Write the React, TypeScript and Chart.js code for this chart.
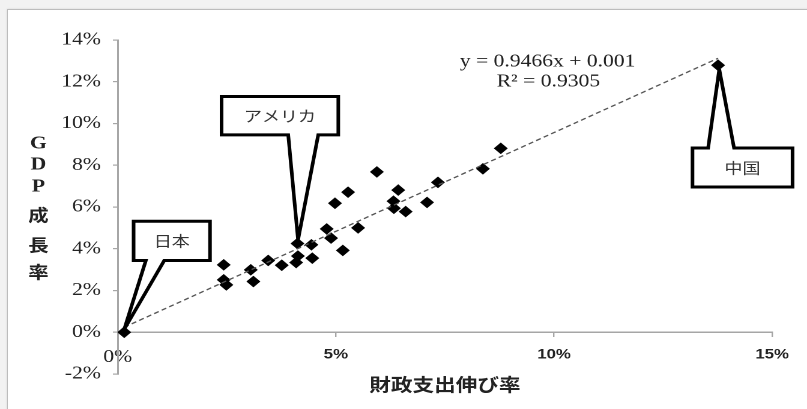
import React, { useEffect, useRef } from 'react';
import { Chart, registerables } from 'chart.js';

Chart.register(...registerables);

// ---- data (percent) ----
const SPENDING_GROWTH = [
  0.15, 2.43, 2.43, 2.49, 3.05, 3.11, 3.45, 3.76, 4.09, 4.12,
  4.13, 4.44, 4.46, 4.79, 4.89, 5.16, 4.98, 5.28, 5.51, 5.94,
  6.43, 6.32, 6.33, 6.6, 7.09, 7.34, 8.37, 8.78, 13.76,
];
const GDP_GROWTH = [
  0.0, 3.23, 2.51, 2.27, 2.99, 2.43, 3.44, 3.21, 3.34, 4.25,
  3.65, 4.19, 3.55, 4.95, 4.51, 3.92, 6.18, 6.71, 5.0, 7.68,
  6.81, 6.28, 5.94, 5.78, 6.22, 7.18, 7.83, 8.81, 12.79,
];
const TREND_SLOPE = 0.9466;
const TREND_INTERCEPT_PCT = 0.1;
const X_TICKS = [0, 5, 10, 15];
const Y_TICK_STEP = 2;
const Y_AXIS_TITLE = ['G', 'D', 'P', '成', '長', '率'];
const X_AXIS_TITLE = '財政支出伸び率';
const EQUATION_LINES = ['y = 0.9466x + 0.001', 'R² = 0.9305'];
const CALLOUT_LABELS = ['日本', 'アメリカ', '中国'];
const CALLOUT_POINTS = [0, 9, 28];

// ---- layout / style (logical px; canvas is stretched horizontally) ----
const LOGICAL_W = 672;
const H = 409;
const DISPLAY_W = 807;

const CALLOUT_GEOMETRY = [
  { tipDx: 0, tipDy: -3, left: 7.8, right: 71.4, top: -111, bottom: -71.7, baseL: 18, baseR: 33.3, side: 'bottom' },
  { tipDx: 0.5, tipDy: -3.7, left: -63.2, right: 34, top: -147, bottom: -108.7, baseL: -7.7, baseR: 17.3, side: 'bottom' },
  { tipDx: 1, tipDy: 4, left: -21.3, right: 62, top: 82.8, bottom: 121.8, baseL: -8.3, baseR: 13.3, side: 'top' },
];
const EQUATION_POS = [{ x: 456, y: 62 }, { x: 456.7, y: 82 }];
const Y_TITLE_X = 32;
const Y_TITLE_Y = [144, 165, 187, 215, 245, 272];

const SERIF = '"Liberation Serif", "DejaVu Serif", serif';
const SANS = '"Liberation Sans", Arial, sans-serif';
const CJK = '"Noto Sans CJK JP", "Noto Sans", sans-serif';

const overlayPlugin = {
  id: 'overlay',
  afterDatasetsDraw(chart: any) {
    const { ctx, scales } = chart;
    const xs = scales.x;
    const ys = scales.y;
    ctx.save();
    // callouts
    CALLOUT_POINTS.forEach((idx, k) => {
      const g = CALLOUT_GEOMETRY[k];
      const px = xs.getPixelForValue(SPENDING_GROWTH[idx]);
      const py = ys.getPixelForValue(GDP_GROWTH[idx]);
      const L = px + g.left;
      const R = px + g.right;
      const T = py + g.top;
      const B = py + g.bottom;
      const edge = g.side === 'bottom' ? B : T;
      const other = g.side === 'bottom' ? T : B;
      ctx.beginPath();
      ctx.moveTo(px + g.baseL, edge);
      ctx.lineTo(px + g.tipDx, py + g.tipDy);
      ctx.lineTo(px + g.baseR, edge);
      ctx.lineTo(R, edge);
      ctx.lineTo(R, other);
      ctx.lineTo(L, other);
      ctx.lineTo(L, edge);
      ctx.closePath();
      ctx.fillStyle = '#ffffff';
      ctx.fill();
      ctx.lineWidth = 3;
      ctx.strokeStyle = '#000000';
      ctx.lineJoin = 'miter';
      ctx.miterLimit = 3;
      ctx.stroke();
      ctx.fillStyle = '#333333';
      ctx.font = `15px ${CJK}`;
      ctx.textAlign = 'center';
      ctx.textBaseline = 'middle';
      ctx.fillText(CALLOUT_LABELS[k], (L + R) / 2, (T + B) / 2);
    });
    // equation
    ctx.fillStyle = '#222222';
    ctx.font = `18px ${SERIF}`;
    ctx.textAlign = 'center';
    ctx.textBaseline = 'middle';
    EQUATION_LINES.forEach((t, i) => ctx.fillText(t, EQUATION_POS[i].x, EQUATION_POS[i].y));
    // y axis title (stacked characters)
    Y_AXIS_TITLE.forEach((ch, i) => {
      const latin = /[A-Za-z]/.test(ch);
      ctx.font = latin ? `bold 18px ${SERIF}` : `bold 17px ${CJK}`;
      ctx.fillText(ch, Y_TITLE_X, Y_TITLE_Y[i]);
    });
    ctx.restore();
  },
};

export default function App() {
  const ref = useRef<HTMLCanvasElement | null>(null);

  useEffect(() => {
    if (!ref.current) return;
    const points = SPENDING_GROWTH.map((x, i) => ({ x, y: GDP_GROWTH[i] }));
    const xMin = Math.min(...SPENDING_GROWTH);
    const xMax = Math.max(...SPENDING_GROWTH);
    const trend = [xMin, xMax].map((x) => ({ x, y: TREND_SLOPE * x + TREND_INTERCEPT_PCT }));
    const axisGray = '#a6a6a6';

    const chart = new Chart(ref.current, {
      type: 'scatter',
      data: {
        datasets: [
          {
            data: trend,
            showLine: true,
            borderColor: '#555555',
            borderWidth: 1.3,
            borderDash: [4.3, 2.8],
            pointRadius: 0,
            fill: false,
          } as any,
          {
            data: points,
            pointStyle: 'rectRot',
            pointRadius: 5.4,
            backgroundColor: '#000000',
            borderColor: '#000000',
            borderWidth: 0.6,
          } as any,
        ],
      },
      options: {
        animation: false,
        responsive: false,
        devicePixelRatio: 2,
        events: [],
        layout: { padding: { top: 40, bottom: 35, right: 29, left: 0 } },
        plugins: { legend: { display: false }, tooltip: { enabled: false }, title: { display: false } },
        scales: {
          x: {
            type: 'linear',
            min: 0,
            max: 15,
            position: { y: 0 } as any,
            afterBuildTicks: (s: any) => {
              s.ticks = X_TICKS.map((v) => ({ value: v }));
            },
            ticks: {
              padding: 10,
              color: '#222222',
              callback: (v: any) => `${v}%`,
              font: ((c: any) =>
                c.tick && c.tick.value === 0
                  ? { family: SERIF, size: 18 }
                  : { family: SANS, size: 14, weight: 'bold' }) as any,
              maxRotation: 0,
            },
            grid: { drawOnChartArea: false, drawTicks: true, tickLength: 4, color: axisGray, lineWidth: 1.2 },
            border: { color: axisGray, width: 1.5 },
            title: {
              display: true,
              text: X_AXIS_TITLE,
              color: '#222222',
              font: { family: CJK, size: 18, weight: 'bold' },
              padding: { top: -4, bottom: 0 },
            },
          },
          y: {
            type: 'linear',
            min: -2,
            max: 14,
            ticks: {
              stepSize: Y_TICK_STEP,
              padding: 10,
              color: '#222222',
              callback: (v: any) => `${v}%`,
              font: { family: SERIF, size: 18 },
            },
            grid: { drawOnChartArea: false, drawTicks: true, tickLength: 4, color: axisGray, lineWidth: 1.2 },
            border: { color: axisGray, width: 1.5 },
            afterFit: (s: any) => {
              s.width = 98;
            },
          },
        },
      },
      plugins: [overlayPlugin],
    } as any);
    return () => chart.destroy();
  }, []);

  return (
    <div
      style={{
        position: 'fixed',
        left: 0,
        top: 0,
        width: DISPLAY_W,
        height: H,
        background: '#f2f2f2',
        overflow: 'hidden',
      }}
    >
      <div
        style={{
          position: 'absolute',
          left: 7,
          top: 9,
          width: 830,
          height: 430,
          background: '#ffffff',
          borderLeft: '1px solid #bcbcbc',
          borderTop: '1px solid #bcbcbc',
          boxShadow: '0 0 2px rgba(0,0,0,0.12)',
        }}
      />
      <canvas
        ref={ref}
        width={LOGICAL_W}
        height={H}
        style={{ position: 'absolute', left: 0, top: 0, width: `${DISPLAY_W}px`, height: `${H}px` }}
      />
    </div>
  );
}
